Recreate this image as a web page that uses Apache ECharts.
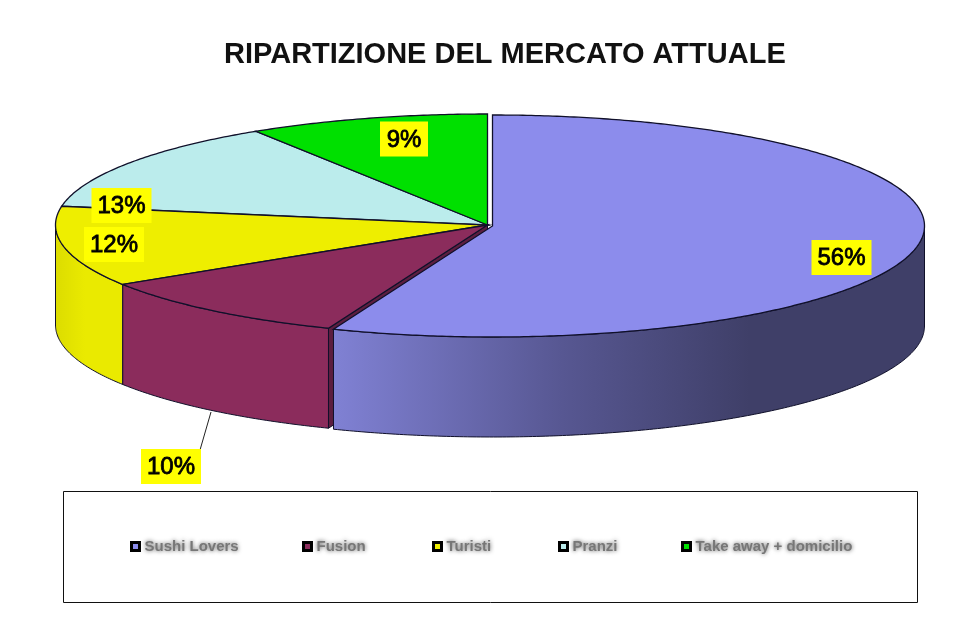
<!DOCTYPE html>
<html>
<head>
<meta charset="utf-8">
<style>html,body{margin:0;padding:0;background:#fff}#c{width:980px;height:630px}</style>
<script src="https://cdn.jsdelivr.net/npm/echarts@6/dist/echarts.min.js"></script>
</head>
<body>
<div id="c"></div>
<script>
const categories = ['Sushi Lovers', 'Fusion', 'Turisti', 'Pranzi', 'Take away + domicilio'];
const shares = [56, 10, 11.7, 13.3, 9];
const labels = ['56%', '10%', '12%', '13%', '9%'];

const topColors = ['#8c8cec', '#8b2c5c', '#eeee00', '#bbecec', '#00e000'];
const labelCenters = [[841.5, 257.5], [171, 466.5], [114, 244.5], [121.5, 205.5], [404, 139]];
const legendLefts = [130, 302, 432, 558, 681];
const drawOrder = [3, 4, 2, 1, 0];
const RX = 432, RY = 111, DEPTH = 100, CX = 487.5, CY = 225;
const EXPLODE = [[5, 1], [0, 0], [0, 0], [0, 0], [0, 0]];
const EDGE = '#10102a';

const chart = echarts.init(document.getElementById('c'));
const total = shares.reduce((a, b) => a + b, 0);
const starts = [];
shares.reduce((acc, v, i) => { starts[i] = acc; return acc + v; }, 0);
const angle = v => v / total * Math.PI * 2;

function pt(i, t, down) {
  return [CX + EXPLODE[i][0] + RX * Math.sin(t), CY + EXPLODE[i][1] - RY * Math.cos(t) + (down || 0)];
}
function arcPoints(i, a, b, down) {
  const n = Math.max(2, Math.ceil(Math.abs(b - a) / 0.01));
  const out = [];
  for (let k = 0; k <= n; k++) out.push(pt(i, a + (b - a) * k / n, down));
  return out;
}
function wallFill(i, base) {
  if (i === 0) {
    return new echarts.graphic.LinearGradient(333, 0, 750, 0, [
      { offset: 0, color: '#8081d4' },
      { offset: 0.55, color: '#575792' },
      { offset: 1, color: '#3f3f68' }
    ], true);
  }
  if (i === 2) {
    return new echarts.graphic.LinearGradient(55, 0, 85, 0, [
      { offset: 0, color: '#dcdc00' },
      { offset: 1, color: '#eaea00' }
    ], true);
  }
  return base;
}
function renderSlice(params) {
  return buildSlice(drawOrder[params.seriesIndex]);
}
function buildSlice(i) {
  const a = angle(starts[i]);
  const b = angle(starts[i] + shares[i]);
  const apex = [CX + EXPLODE[i][0], CY + EXPLODE[i][1]];
  const children = [];
  if (i === 1) {
    const c = pt(i, a);
    children.push({
      type: 'polygon',
      shape: { points: [apex, c, [c[0], c[1] + DEPTH], [apex[0], apex[1] + DEPTH]] },
      style: { fill: '#5c1e40', stroke: EDGE, lineWidth: 1 }
    });
  }
  const wa = Math.max(a, Math.PI / 2);
  const wb = Math.min(b, Math.PI * 1.5);
  if (wb > wa) {
    const upper = arcPoints(i, wa, wb, 0);
    const lower = arcPoints(i, wb, wa, DEPTH);
    children.push({
      type: 'polygon',
      shape: { points: upper.concat(lower) },
      style: { fill: wallFill(i, topColors[i]), stroke: EDGE, lineWidth: 1 }
    });
  }
  children.push({
    type: 'polygon',
    shape: { points: [apex].concat(arcPoints(i, a, b, 0)) },
    style: { fill: topColors[i], stroke: EDGE, lineWidth: 1.3 }
  });
  if (i === 1) {
    children.push({
      type: 'line',
      shape: { x1: 211, y1: 412, x2: 200, y2: 450 },
      style: { stroke: '#222', lineWidth: 1 }
    });
  }
  const lc = labelCenters[i];
  const w = labels[i].length === 2 ? 48 : 60;
  children.push({
    type: 'rect', z2: 50,
    shape: { x: lc[0] - w / 2, y: lc[1] - 17.5, width: w, height: 35 },
    style: { fill: '#ffff00' }
  });
  children.push({
    type: 'text', z2: 51,
    style: {
      text: labels[i], x: lc[0], y: lc[1] + 1, align: 'center', verticalAlign: 'middle',
      font: '24px "Liberation Sans", Arial, sans-serif',
      fill: '#000', stroke: '#000', lineWidth: 0.8
    }
  });
  return { type: 'group', children };
}

chart.setOption({
  backgroundColor: '#fff',
  animation: false,
  title: {
    text: 'RIPARTIZIONE DEL MERCATO ATTUALE',
    left: 224, top: 40, padding: 0,
    textStyle: { fontFamily: '"Liberation Sans", Arial, sans-serif', fontWeight: 'bold', fontSize: 29, color: '#111' }
  },
  graphic: [{
    type: 'rect', z: -1,
    shape: { x: 63.5, y: 491.5, width: 854, height: 111 },
    style: { fill: '#fff', stroke: '#111', lineWidth: 1 }
  }],
  legend: categories.map((name, i) => ({
    left: legendLefts[i], top: 539, padding: 0,
    itemWidth: 8, itemHeight: 8,
    icon: 'rect',
    data: [name],
    itemStyle: { borderColor: '#000', borderWidth: 3 },
    textStyle: {
      fontFamily: '"Liberation Sans", Arial, sans-serif', fontWeight: 'bold', fontSize: 15,
      color: '#777', textShadowColor: '#555', textShadowBlur: 4
    }
  })),
  series: drawOrder.map(i => ({
    type: 'custom',
    name: categories[i],
    coordinateSystem: 'none',
    silent: true,
    itemStyle: { color: topColors[i] },
    renderItem: renderSlice,
    data: [[shares[i]]]
  }))
});
</script>
</body>
</html>
